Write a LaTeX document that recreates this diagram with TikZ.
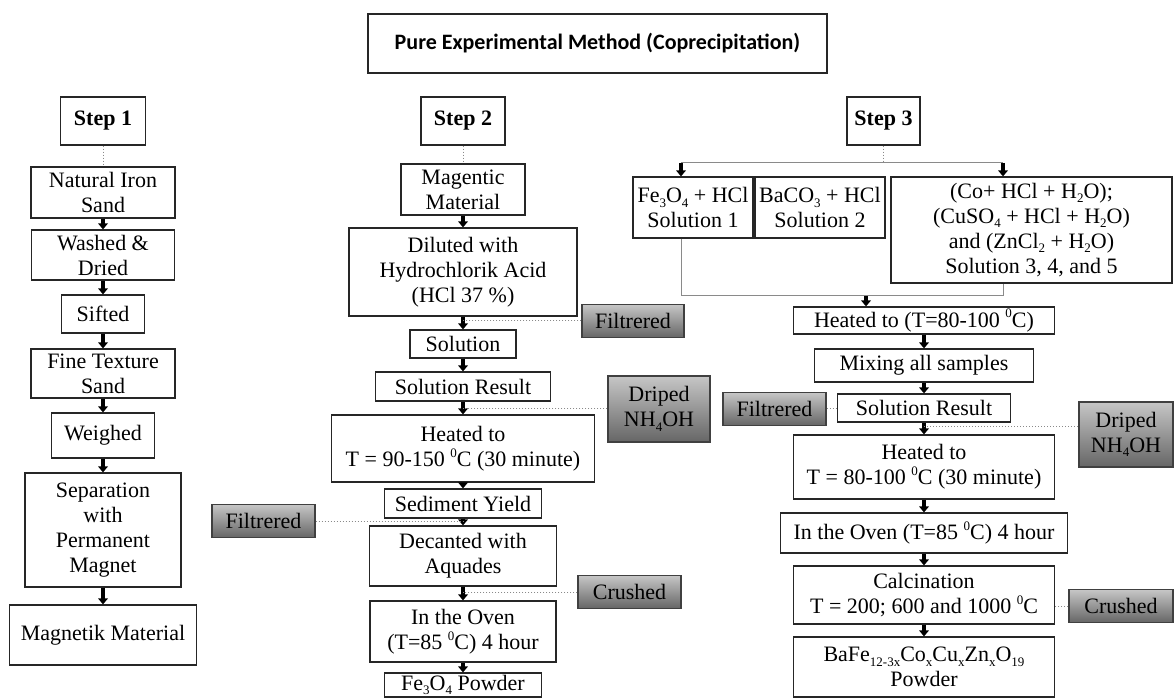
\documentclass[tikz,border=0pt]{standalone}
\usepackage{fontspec}
\setmainfont{Liberation Serif}
\newfontfamily\titlefont{Carlito}
\usepackage{xcolor}
\definecolor{gtop}{HTML}{C6C6C6}
\definecolor{gbot}{HTML}{666666}
\definecolor{lgray}{HTML}{8A8A8A}
\usetikzlibrary{arrows.meta,positioning,calc}
\newcommand\lo[1]{\raisebox{-0.45ex}{\fontsize{6.5}{6.5}\selectfont #1}}
\newcommand\hi[1]{\raisebox{0.9ex}{\fontsize{6.5}{6.5}\selectfont #1}}

\begin{document}
\begin{tikzpicture}[x=0.5pt,y=-0.5pt,
  font=\fontsize{11}{12.5}\selectfont,
  box/.style={rectangle,draw=black!85,line width=0.6pt,fill=white,align=center,inner sep=1pt},
  stepbox/.style={box,font=\fontsize{11}{12.5}\selectfont\bfseries,minimum height=24pt},
  gbox/.style={box,draw=black!75,top color=gtop,bottom color=gbot},
  arr/.style={-{Triangle[width=4.8pt,length=3pt]},line width=1.7pt},
  dot/.style={densely dotted,draw=lgray,line width=0.5pt},
  lnk/.style={draw=lgray,line width=0.5pt}
]
\useasboundingbox (0,0) rectangle (1176,699);

\node[box,minimum width=229.5pt,minimum height=29.5pt,font=\titlefont\fontsize{11}{13}\selectfont\bfseries] (title) at (597.5,43.5) {Pure Experimental Method (Coprecipitation)};

% step 1
\node[stepbox,minimum width=42.5pt] (s1) at (103,121) {Step 1};
\node[box,minimum width=72pt,minimum height=25.5pt] (nis) at (103,192.5) {Natural Iron\\Sand};
\node[box,minimum width=71.5pt,minimum height=25pt] (wd) at (103,255) {Washed \&\\Dried};
\node[box,minimum width=41.5pt,minimum height=19pt] (sf) at (103,314) {Sifted};
\node[box,minimum width=72pt,minimum height=24.5pt] (fts) at (103,373.5) {Fine Texture\\Sand};
\node[box,minimum width=51.5pt,minimum height=22.5pt] (wg) at (103,435.5) {Weighed};
\node[box,minimum width=78pt,minimum height=57pt] (spm) at (103,530) {Separation\\with\\Permanent\\Magnet};
\node[box,minimum width=93.5pt,minimum height=30pt] (mm) at (103,635) {Magnetik Material};
\draw[dot] (s1)--(nis);
\draw[arr] (nis)--(wd); \draw[arr] (wd)--(sf); \draw[arr] (sf)--(fts);
\draw[arr] (fts)--(wg); \draw[arr] (wg)--(spm); \draw[arr] (spm)--(mm);

% step 2
\node[stepbox,minimum width=42pt] (s2) at (463,121) {Step 2};
\node[box,minimum width=62pt,minimum height=25.5pt] (mgm) at (463,189.5) {Magentic\\Material};
\node[box,minimum width=114pt,minimum height=44pt] (dil) at (463,272) {Diluted with\\Hydrochlorik Acid\\(HCl 37 \%)};
\node[box,minimum width=53pt,minimum height=14pt] (sol) at (463,344) {Solution};
\node[box,minimum width=87.5pt,minimum height=14.5pt] (sr2) at (463,386.5) {Solution Result};
\node[box,minimum width=131.5pt,minimum height=33.5pt] (ht2) at (463,448.5) {Heated to\\T = 90-150 \hi{0}C (30 minute)};
\node[box,minimum width=78.5pt,minimum height=14.5pt] (sy) at (463,503.5) {Sediment Yield};
\node[box,minimum width=93.5pt,minimum height=30pt] (dec) at (463,556) {Decanted with\\Aquades};
\node[box,minimum width=93pt,minimum height=30.5pt] (ov2) at (463,631.5) {In the Oven\\(T=85 \hi{0}C) 4 hour};
\node[box,minimum width=78.5pt,minimum height=12pt] (fep) at (463,685) {Fe\lo{3}O\lo{4} Powder};
\draw[dot] (s2)--(mgm);
\draw[arr] (mgm)--(dil); \draw[arr] (dil)--(sol); \draw[arr] (sol)--(sr2);
\draw[arr] (sr2)--(ht2); \draw[arr] (ht2)--(sy); \draw[arr] (sy)--(dec);
\draw[arr] (dec)--(ov2); \draw[arr] (ov2)--(fep);

\node[gbox,minimum width=51pt,minimum height=16.5pt] (f2a) at (633,321) {Filtrered};
\node[gbox,minimum width=51pt,minimum height=33pt] (dr2) at (659,409) {Driped\\NH\lo{4}OH};
\node[gbox,minimum width=51.5pt,minimum height=16.5pt] (f2b) at (263.5,521) {Filtrered};
\node[gbox,minimum width=51.5pt,minimum height=16.5pt] (cr2) at (629.5,592) {Crushed};
\draw[dot] (f2a.west) -- (f2a.west -| dil.south);
\draw[dot] (dr2.west) -- (dr2.west -| sr2.south);
\draw[dot] (f2b.east) -- (f2b.east -| sy.south);
\draw[dot] (cr2.west) -- (cr2.west -| dec.south);

% step 3
\node[stepbox,minimum width=36.5pt] (s3) at (883.5,121) {Step 3};
\node[box,minimum width=60pt,minimum height=30.5pt] (so1) at (693,207.5) {Fe\lo{3}O\lo{4} + HCl\\Solution 1};
\node[box,minimum width=65pt,minimum height=30.5pt] (so2) at (820,207.5) {BaCO\lo{3} + HCl\\Solution 2};
\node[box,minimum width=140.5pt,minimum height=53pt] (so3) at (1031.5,230) {(Co+ HCl + H\lo{2}O);\\(CuSO\lo{4} + HCl + H\lo{2}O)\\and (ZnCl\lo{2} + H\lo{2}O)\\Solution 3, 4, and 5};
\coordinate (sp) at (883.5,163);
\coordinate (sp1) at (681,163);
\coordinate (sp3) at (1003,163);
\coordinate (mg) at (866,296);
\draw[dot] (s3.south) -- (sp);
\draw[lnk] (sp1) -- (sp3);
\draw[arr] (sp1) -- (sp1 |- so1.north);
\draw[arr] (sp3) -- (sp3 |- so3.north);
\draw[lnk] (sp1 |- so1.south) -- (sp1 |- mg) -- (sp3 |- mg) -- (sp3 |- so3.south);

\node[box,minimum width=130.5pt,minimum height=13.5pt] (ht3a) at (924,320.5) {Heated to (T=80-100 \hi{0}C)};
\node[box,minimum width=109.5pt,minimum height=16.5pt] (mix) at (924,365.5) {Mixing all samples};
\node[box,minimum width=86.5pt,minimum height=14pt] (sr3) at (924,408) {Solution Result};
\node[box,minimum width=130.5pt,minimum height=32pt] (ht3b) at (924,467) {Heated to\\T = 80-100 \hi{0}C (30 minute)};
\node[box,minimum width=143.5pt,minimum height=20pt] (ov3) at (924,533) {In the Oven (T=85 \hi{0}C) 4 hour};
\node[box,minimum width=130.5pt,minimum height=29pt] (calc) at (924,595) {Calcination\\T = 200; 600 and 1000 \hi{0}C};
\node[box,minimum width=130.5pt,minimum height=30pt] (baf) at (924,667) {BaFe\lo{12-3x}Co\lo{x}Cu\lo{x}Zn\lo{x}O\lo{19}\\Powder};
\draw[arr] (mg) -- (mg |- ht3a.north);
\draw[arr] (ht3a)--(mix); \draw[arr] (mix)--(sr3); \draw[arr] (sr3)--(ht3b);
\draw[arr] (ht3b)--(ov3); \draw[arr] (ov3)--(calc); \draw[arr] (calc)--(baf);

\node[gbox,minimum width=51.5pt,minimum height=16.5pt] (f3) at (774.5,409) {Filtrered};
\node[gbox,minimum width=47pt,minimum height=32.5pt] (dr3) at (1126,434.5) {Driped\\NH\lo{4}OH};
\node[gbox,minimum width=52pt,minimum height=16.5pt] (cr3) at (1121,606) {Crushed};
\coordinate (d3) at ($(sr3.south)+(0,4)$);
\draw[dot] (f3.east) -- (f3.east -| sr3.west);
\draw[dot] (d3) -- (d3 -| dr3.west);
\draw[dot] (cr3.west) -- (cr3.west -| calc.east);
\end{tikzpicture}
\end{document}
